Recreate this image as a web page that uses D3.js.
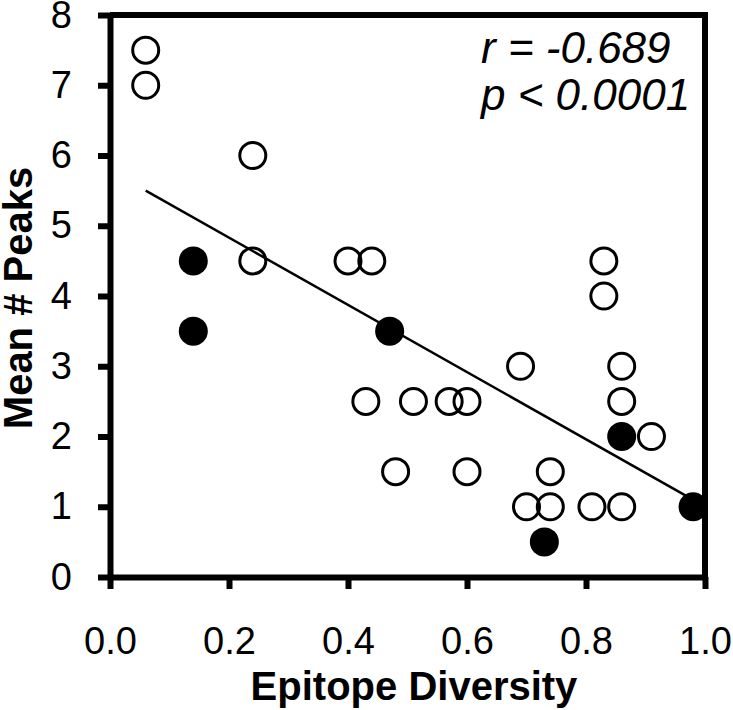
<!DOCTYPE html>
<html>
<head>
<meta charset="utf-8">
<title>Mean # Peaks vs Epitope Diversity</title>
<script src="https://cdn.jsdelivr.net/npm/d3@7"></script>
<style>
  body { margin: 0; background: #fff; }
  svg { font-family: "Liberation Sans", Arial, sans-serif; }
  .axis path, .axis line { stroke: #000; stroke-width: 6; }
  .axis text { font-size: 38px; fill: #000; }
</style>
</head>
<body>
<script>
// open circles
var openX = [0.06, 0.06, 0.24, 0.24, 0.40, 0.44, 0.43, 0.51, 0.57, 0.60, 0.48, 0.60,
             0.69, 0.70, 0.74, 0.74, 0.81, 0.86, 0.83, 0.83, 0.86, 0.86, 0.91];
var openY = [7.5, 7.0, 6.0, 4.5, 4.5, 4.5, 2.5, 2.5, 2.5, 2.5, 1.5, 1.5,
             3.0, 1.0, 1.0, 1.5, 1.0, 1.0, 4.5, 4.0, 3.0, 2.5, 2.0];
// filled circles
var fillX = [0.14, 0.14, 0.47, 0.86, 0.73, 0.98];
var fillY = [4.5, 3.5, 3.5, 2.0, 0.5, 1.0];
// regression line ends
var fitX = [0.06, 0.984];
var fitY = [5.50, 1.08];

var xTicks = [0, 0.2, 0.4, 0.6, 0.8, 1.0];
var yTicks = [0, 1, 2, 3, 4, 5, 6, 7, 8];
var stats = ["r = -0.689", "p < 0.0001"];

var w = 733, h = 710;
var svg = d3.select('body').append('svg').attr('width', w).attr('height', h);

var x = d3.scaleLinear().domain([0, 1]).range([110, 705]);
var y = d3.scaleLinear().domain([0, 8]).range([577, 15]);

// frame (top + right)
svg.append('path')
  .attr('d', 'M' + x(0) + ',' + y(8) + 'H' + x(1) + 'V' + y(0))
  .attr('fill', 'none').attr('stroke', '#000').attr('stroke-width', 6);

var xAxis = d3.axisBottom(x).tickValues(xTicks).tickFormat(d3.format('.1f'))
  .tickSize(12).tickSizeOuter(0).tickPadding(38);
svg.append('g').attr('class', 'axis').attr('transform', 'translate(0,' + y(0) + ')').call(xAxis);

var yAxis = d3.axisLeft(y).tickValues(yTicks).tickFormat(d3.format('d'))
  .tickSize(12).tickSizeOuter(0).tickPadding(26);
svg.append('g').attr('class', 'axis').attr('transform', 'translate(' + x(0) + ',0)').call(yAxis);

// regression line
var line = d3.line().x(function(d) { return x(d[0]); }).y(function(d) { return y(d[1]); });
svg.append('path').datum(d3.zip(fitX, fitY))
  .attr('d', line).attr('fill', 'none').attr('stroke', '#000').attr('stroke-width', 2.5);

// points
svg.append('g').selectAll('circle').data(d3.zip(openX, openY)).enter().append('circle')
  .attr('cx', function(d) { return x(d[0]); })
  .attr('cy', function(d) { return y(d[1]); })
  .attr('r', 13).attr('fill', 'none').attr('stroke', '#000').attr('stroke-width', 3);

svg.append('g').selectAll('circle').data(d3.zip(fillX, fillY)).enter().append('circle')
  .attr('cx', function(d) { return x(d[0]); })
  .attr('cy', function(d) { return y(d[1]); })
  .attr('r', 14.5).attr('fill', '#000');

// stats text
svg.append('g').selectAll('text').data(stats).enter().append('text')
  .attr('x', 481).attr('y', function(d, i) { return 63 + i * 47; })
  .attr('font-size', 44).attr('font-style', 'italic').text(function(d) { return d; });

// axis titles
svg.append('text').attr('x', 414).attr('y', 700).attr('text-anchor', 'middle')
  .attr('font-size', 40).attr('font-weight', 'bold').text('Epitope Diversity');
svg.append('text').attr('transform', 'translate(32,298)rotate(-90)').attr('text-anchor', 'middle')
  .attr('font-size', 40).attr('font-weight', 'bold').text('Mean # Peaks');
</script>
</body>
</html>
